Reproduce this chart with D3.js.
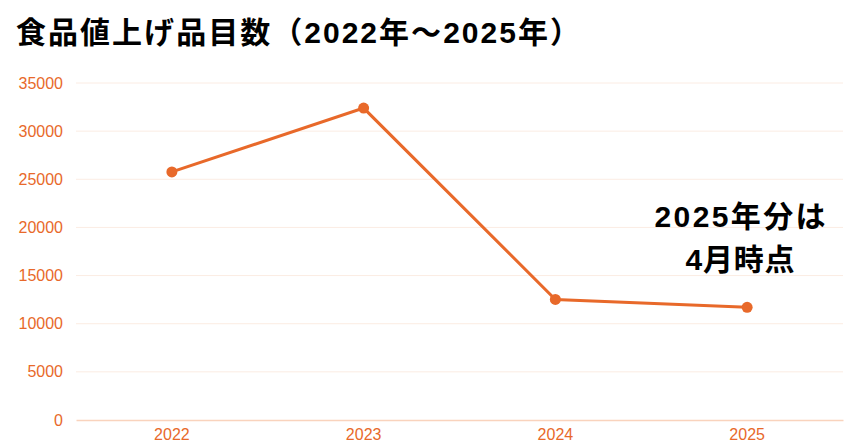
<!DOCTYPE html>
<html><head><meta charset="utf-8">
<script src="https://cdn.jsdelivr.net/npm/d3@7"></script>
<style>
body{margin:0;background:#fff;}
svg{display:block;}
</style></head>
<body>
<svg id="chart" width="851" height="442"></svg>
<script>
const years = ["2022","2023","2024","2025"];
const counts = [25768, 32396, 12520, 11707];
const yTicks = [0,5000,10000,15000,20000,25000,30000,35000];
const titleText = "食品値上げ品目数（2022年～2025年）";
const noteLines = ["2025年分は","4月時点"];
const noteWidths = [171,109];

const W=851,H=442;
const m={left:76,right:8,top:83,bottom:22};
const svg=d3.select("#chart");
const orange="#E8692A";
const boldFont="'Liberation Sans','Noto Sans CJK JP',sans-serif";

const x=d3.scaleBand().domain(years).range([m.left,W-m.right]);
const y=d3.scaleLinear().domain([0,35000]).range([H-m.bottom,m.top]);

svg.append("text").attr("x",16).attr("y",43)
  .attr("font-family",boldFont).attr("font-weight","bold")
  .attr("font-size",30).attr("fill","#000")
  .attr("textLength",564).attr("lengthAdjust","spacing")
  .text(titleText);

// grid
svg.append("g").selectAll("line").data(yTicks.filter(d=>d>0)).join("line")
  .attr("x1",m.left).attr("x2",W-m.right)
  .attr("y1",d=>y(d)).attr("y2",d=>y(d))
  .attr("stroke","#fbece3").attr("stroke-width",1);

const yAxis=svg.append("g").attr("transform",`translate(${m.left},0)`)
  .call(d3.axisLeft(y).tickValues(yTicks).tickSize(0).tickPadding(13).tickFormat(d3.format("d")));
yAxis.select(".domain").remove();
yAxis.selectAll("text").attr("fill",orange).attr("font-size",16)
  .attr("font-family","'Liberation Sans',Arial,sans-serif");

const xAxis=svg.append("g").attr("transform",`translate(0,${H-m.bottom})`)
  .call(d3.axisBottom(x).tickSize(0).tickPadding(9));
xAxis.select(".domain").attr("stroke","#f9d3bd").attr("stroke-width",1.5);
xAxis.selectAll("text").attr("fill",orange).attr("font-size",16)
  .attr("font-family","'Liberation Sans',Arial,sans-serif");

const pts=years.map((k,i)=>({k,v:counts[i]}));
svg.append("path").datum(pts)
  .attr("d",d3.line().x(d=>x(d.k)+x.bandwidth()/2).y(d=>y(d.v)))
  .attr("fill","none").attr("stroke",orange).attr("stroke-width",3);
svg.append("g").selectAll("circle").data(pts).join("circle")
  .attr("cx",d=>x(d.k)+x.bandwidth()/2).attr("cy",d=>y(d.v)).attr("r",5.5).attr("fill",orange);

const note=svg.append("g").attr("font-family",boldFont).attr("font-weight","bold")
  .attr("font-size",30).attr("fill","#000");
note.selectAll("text").data(noteLines).join("text")
  .attr("x",740).attr("y",(d,i)=>227+i*43).attr("text-anchor","middle")
  .attr("textLength",(d,i)=>noteWidths[i]).attr("lengthAdjust","spacing")
  .text(d=>d);
</script>
</body></html>
